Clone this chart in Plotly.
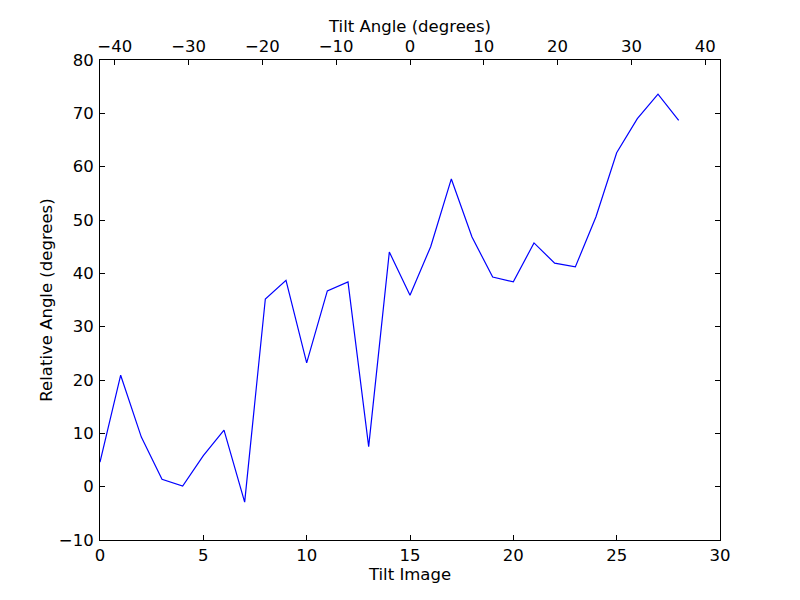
import plotly.graph_objects as go

tilt_image = list(range(29))
relative_angle = [4.6, 20.9, 9.3, 1.4, 0.1, 5.8, 10.6, -2.9, 35.2, 38.7,
                  23.2, 36.7, 38.4, 7.5, 44.0, 35.9, 45.0, 57.7, 46.8, 39.3,
                  38.4, 45.7, 41.9, 41.2, 50.6, 62.6, 69.0, 73.6, 68.7]
tilt_angle_range = [-42, 42]
tilt_angle_ticks = [-40, -30, -20, -10, 0, 10, 20, 30, 40]

font = dict(family="DejaVu Sans", size=16.5, color="black")

fig = go.Figure()
fig.add_trace(go.Scatter(x=tilt_image, y=relative_angle, mode="lines",
                         line=dict(color="#0000ff", width=1.2), showlegend=False))
# invisible trace to anchor top axis
fig.add_trace(go.Scatter(x=tilt_angle_range, y=[None, None], xaxis="x2", yaxis="y",
                         mode="lines", showlegend=False, hoverinfo="skip"))

fig.update_layout(
    width=800, height=600,
    margin=dict(l=100, r=80, t=60, b=60, autoexpand=False),
    paper_bgcolor="white", plot_bgcolor="white",
    font=font,
    xaxis=dict(range=[0, 30], dtick=5, ticks="inside", ticklen=5, tickcolor="black",
               showline=True, linecolor="black", linewidth=1, mirror=False,
               showgrid=False, zeroline=False, ticklabelstandoff=0,
               title=dict(text="Tilt Image", font=font, standoff=1)),
    xaxis2=dict(range=tilt_angle_range, tickvals=tilt_angle_ticks,
                overlaying="x", side="top", ticks="inside", ticklen=5, tickcolor="black",
                showline=True, linecolor="black", linewidth=1,
                showgrid=False, zeroline=False, ticklabelstandoff=0,
                title=dict(text="Tilt Angle (degrees)", font=font, standoff=0)),
    yaxis=dict(range=[-10, 80], dtick=10, ticks="inside", ticklen=5, tickcolor="black",
               showline=True, linecolor="black", linewidth=1, mirror="ticks",
               showgrid=False, zeroline=False, ticklabelstandoff=2,
               title=dict(text="Relative Angle (degrees)", font=font, standoff=2)),
)

fig.write_html("out.html", config={"displayModeBar": False},
               post_script="document.body.style.margin='0px';")
